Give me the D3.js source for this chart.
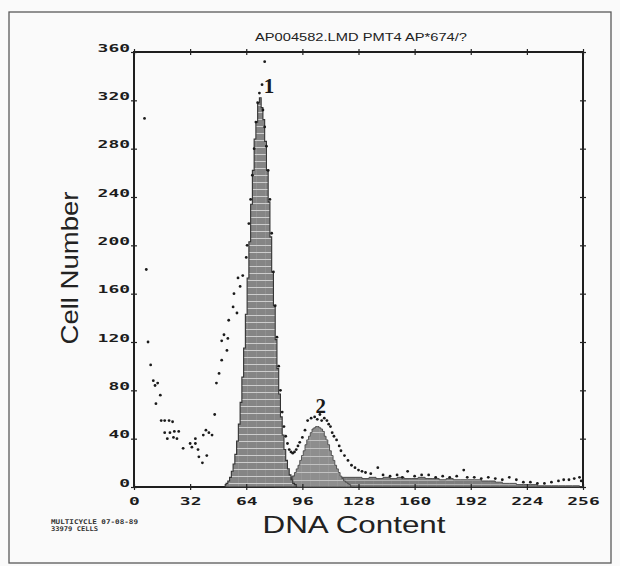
<!DOCTYPE html>
<html>
<head>
<meta charset="utf-8">
<script src="https://cdn.jsdelivr.net/npm/d3@7"></script>
<style>
  body { margin: 0; background: #fafafa; }
  svg { display: block; }
</style>
</head>
<body>
<div id="chart"></div>
<script>
// chart text
const title = 'AP004582.LMD PMT4 AP*674/?';
const xLabel = 'DNA Content';
const yLabel = 'Cell Number';
const footLines = ['MULTICYCLE 07-08-89', '33979 CELLS'];

// tick values
const xTicks = [0, 32, 64, 96, 128, 160, 192, 224, 256];
const yTicks = [0, 40, 80, 120, 160, 200, 240, 280, 320, 360];

// fitted G0/G1 peak (channel, count)
const g1Peak = [[52,2],[53,3],[54,5],[55,8],[56,13],[57,19],[58,27],[59,38],[60,52],[61,70],
  [62,91],[63,115],[64,143],[65,173],[66,203],[67,234],[68,262],[69,288],[70,302],[71,318],
  [72,322],[73,314],[74,304],[75,286],[76,262],[77,236],[78,207],[79,178],[80,150],[81,122],
  [82,98],[83,77],[84,58],[85,43],[86,31],[87,22],[88,15],[89,10],[90,6],[91,3],[92,2],[93,0]];

// fitted G2/M peak (channel, count)
const g2Peak = [[86,2],[87,3],[88,4],[89,5],[90,7],[91,9],[92,12],[93,15],[94,18],[95,22],
  [96,26],[97,30],[98,35],[99,39],[100,42],[101,45],[102,48],[103,49],[104,50],[105,50],
  [106,49],[107,48],[108,46],[109,42],[110,39],[111,35],[112,30],[113,26],[114,22],[115,18],
  [116,15],[117,12],[118,9],[119,7],[120,5],[121,4],[122,3],[123,2],[124,0]];

// fitted S-phase band (channel, count)
const sPhase = [[80,3],[84,6],[88,8],[92,9],[96,9],[100,9],[104,9],[108,9],[112,9],[116,8],
  [120,8],[124,8],[128,8],[132,7],[136,8],[140,7],[144,8],[148,7],[152,8],[156,7],[160,7],
  [164,8],[168,7],[172,7],[176,6],[180,7],[184,6],[188,6],[192,6],[196,6],[200,5],[204,5],
  [208,4],[212,3],[216,3],[220,2],[224,2],[228,2],[232,1],[236,1],[240,1],[244,1],[248,1],
  [252,1],[256,0]];

// raw histogram points (channel, count)
const rawPoints = [[6,305],[7,180],[8,120],[9.5,101],[11,88],[13.5,86],[12,84],[15,76],[12.5,69],
  [15.5,55],[17.5,55],[20,55],[22,54],[17.5,45],[20.5,45],[23,46],[25.5,46],[19,40],[22.5,41],
  [24.5,40],[28,32],[32,36],[35,36],[33,33],[35,40],[36.5,31],[37,25],[39,20],[41.5,26],
  [39.5,43],[41,47],[42.7,45],[44.5,43],[46,60],[47,86],[48.5,94],[50,105],[50,121],[51.3,126],
  [53.5,123],[53,113],[54,138],[56.5,149],[57,160],[58.7,144],[59.3,173],[60.5,166],[62,175],
  [64,190],[64.5,200],[65.5,218],[66.5,238],[67.5,258],[68.5,280],[69.5,302],[70.5,318],
  [71.5,326],[73,333],[74.5,352],[73.5,312],[74.5,298],[75.5,282],[76.5,262],[77.5,238],
  [78.5,210],[79.5,178],[80.5,150],[81.5,124],[82.5,100],[83.5,80],[84.5,62],[85.5,50],
  [86.5,42],[87.5,36],[88.5,31],[89.5,29],[90.5,28],[91.5,29],[92.5,31],[93.5,34],[94.5,37],
  [96,41],[97.5,47],[99,55],[101,57],[103,58],[104.5,56],[106,60],[107,55],[108.5,57],
  [110,55],[111,52],[112,50],[113,45],[114,42],[115.5,39],[117,34],[118,30],[120,26],
  [122,22],[124,18],[126,16],[128,14],[130,13],[132,12],[135,11],[139,16],[142,10],[146,9],
  [150,10],[153,8],[156,13],[160,9],[164,10],[168,10],[172,8],[176,9],[180,8],[184,9],
  [188,14],[190,8],[194,8],[198,7],[202,8],[206,7],[210,6],[214,8],[218,6],[222,4],[226,4],
  [230,3],[234,3],[238,4],[242,5],[245,6],[248,6],[251,7],[254,8],[255,5]];

// peak markers (channel, count, text)
const peakMarks = [[77, 326, '1'], [106.5, 61, '2']];

const width = 620, height = 566;
const plot = { left: 134, right: 583, top: 52, bottom: 487 };

const svg = d3.select('#chart').append('svg')
  .attr('width', width)
  .attr('height', height);

svg.append('rect')
  .attr('width', width).attr('height', height)
  .attr('fill', '#fafafa');

// page frame
svg.append('rect')
  .attr('x', 9).attr('y', 12)
  .attr('width', 602).attr('height', 551)
  .attr('fill', 'none')
  .attr('stroke', '#5a5a5a')
  .attr('stroke-width', 1.3);

const x = d3.scaleLinear().domain([0, 256]).range([plot.left, plot.right]);
const y = d3.scaleLinear().domain([0, 360]).range([plot.bottom, plot.top]);

// plot frame as four thin filled bars
const frameBars = [
  { x: plot.left - 1, y: plot.top - 1, w: plot.right - plot.left + 2, h: 2 },
  { x: plot.right - 1, y: plot.top - 1, w: 2, h: plot.bottom - plot.top + 2 },
  { x: plot.left - 1, y: plot.bottom - 1, w: plot.right - plot.left + 2, h: 2 },
  { x: plot.left - 1, y: plot.top - 1, w: 2, h: plot.bottom - plot.top + 2 }
];
svg.append('g').selectAll('rect')
  .data(frameBars)
  .join('rect')
  .attr('x', d => d.x).attr('y', d => d.y)
  .attr('width', d => d.w).attr('height', d => d.h)
  .attr('fill', '#1e1e1e');

// streaked patterns that mimic the shaded fit areas
const defs = svg.append('defs');
function streaks(id, base, streak, gap) {
  const p = defs.append('pattern')
    .attr('id', id)
    .attr('patternUnits', 'userSpaceOnUse')
    .attr('width', 9).attr('height', gap);
  p.append('rect').attr('width', 9).attr('height', gap).attr('fill', base);
  p.append('line').attr('x1', 0).attr('x2', 9).attr('y1', 0.5).attr('y2', 0.5)
    .attr('stroke', streak).attr('stroke-width', 1);
  p.append('line').attr('x1', 4.5).attr('x2', 4.5).attr('y1', 0).attr('y2', gap)
    .attr('stroke', streak).attr('stroke-opacity', 0.25).attr('stroke-width', 0.6);
}
streaks('g1fill', '#858585', '#cdcdcd', 7);
streaks('g2fill', '#8e8e8e', '#c2c2c2', 8);
streaks('sfill', '#7e7e7e', '#b0b0b0', 4);

const area = d3.area()
  .x(d => x(d[0]))
  .y0(y(0))
  .y1(d => y(d[1]))
  .curve(d3.curveStep);

svg.append('path').datum(sPhase)
  .attr('d', area)
  .attr('fill', 'url(#sfill)')
  .attr('stroke', '#444').attr('stroke-width', 0.9);

svg.append('path').datum(g2Peak)
  .attr('d', area)
  .attr('fill', 'url(#g2fill)')
  .attr('stroke', '#4a4a4a').attr('stroke-width', 0.9);

svg.append('path').datum(g1Peak)
  .attr('d', area)
  .attr('fill', 'url(#g1fill)')
  .attr('stroke', '#333').attr('stroke-width', 1.1);

// raw data points
svg.append('g').selectAll('circle')
  .data(rawPoints)
  .join('circle')
  .attr('cx', d => x(d[0]))
  .attr('cy', d => y(d[1]))
  .attr('r', 1.4)
  .attr('fill', '#1a1a1a');

// axes on all four sides, ticks cross the frame
function styleAxis(g, crossAttr) {
  g.select('.domain').remove();
  g.selectAll('.tick line').attr('stroke', '#222').attr('stroke-width', 1.2)
    .attr(crossAttr + '1', -3).attr(crossAttr + '2', 3);
}

const xAxisG = svg.append('g')
  .attr('transform', `translate(0,${plot.bottom})`)
  .call(d3.axisBottom(x).tickValues(xTicks).tickSize(3).tickSizeOuter(0).tickPadding(6));
styleAxis(xAxisG, 'y');

svg.append('g')
  .attr('transform', `translate(0,${plot.top})`)
  .call(d3.axisTop(x).tickValues(xTicks).tickSize(3).tickSizeOuter(0).tickFormat(''))
  .call(g => styleAxis(g, 'y'));

const yAxisG = svg.append('g')
  .attr('transform', `translate(${plot.left},0)`)
  .call(d3.axisLeft(y).tickValues(yTicks).tickSize(3).tickSizeOuter(0).tickPadding(4));
styleAxis(yAxisG, 'x');

svg.append('g')
  .attr('transform', `translate(${plot.right},0)`)
  .call(d3.axisRight(y).tickValues(yTicks).tickSize(3).tickSizeOuter(0).tickFormat(''))
  .call(g => styleAxis(g, 'x'));

// wide stencil-like tick labels
function tickText(g) {
  g.selectAll('.tick text')
    .attr('font-family', '"DejaVu Sans Mono", monospace')
    .attr('font-weight', 'bold')
    .attr('font-size', 11)
    .attr('fill', '#1c1c1c')
    .attr('lengthAdjust', 'spacingAndGlyphs')
    .attr('textLength', function () { return this.textContent.length * 10.8; });
}
xAxisG.call(tickText);
xAxisG.selectAll('.tick text').attr('dy', '0.78em');
yAxisG.call(tickText);
yAxisG.selectAll('.tick text').attr('dy', -1).attr('x', -4);

// title
svg.append('text')
  .attr('x', 361).attr('y', 41)
  .attr('text-anchor', 'middle')
  .attr('font-family', '"Liberation Sans", Arial, sans-serif')
  .attr('font-size', 11.5)
  .attr('fill', '#222')
  .attr('textLength', 212)
  .attr('lengthAdjust', 'spacingAndGlyphs')
  .text(title);

// axis titles
svg.append('text')
  .attr('x', 354).attr('y', 533)
  .attr('text-anchor', 'middle')
  .attr('font-family', '"Liberation Sans", Arial, sans-serif')
  .attr('font-size', 24)
  .attr('fill', '#222')
  .attr('textLength', 183)
  .attr('lengthAdjust', 'spacingAndGlyphs')
  .text(xLabel);

svg.append('text')
  .attr('transform', 'translate(78,268) rotate(-90)')
  .attr('text-anchor', 'middle')
  .attr('font-family', '"Liberation Sans", Arial, sans-serif')
  .attr('font-size', 24)
  .attr('fill', '#222')
  .attr('textLength', 153)
  .attr('lengthAdjust', 'spacingAndGlyphs')
  .text(yLabel);

// peak numbers
svg.append('g').selectAll('text')
  .data(peakMarks)
  .join('text')
  .attr('x', d => x(d[0]))
  .attr('y', d => y(d[1]))
  .attr('text-anchor', 'middle')
  .attr('font-family', '"Liberation Serif", "DejaVu Serif", serif')
  .attr('font-weight', 'bold')
  .attr('font-size', 21)
  .attr('fill', '#1a1a1a')
  .text(d => d[2]);

// footnote in the lower left corner
svg.append('g').selectAll('text')
  .data(footLines)
  .join('text')
  .attr('x', 51)
  .attr('y', (d, i) => 524 + i * 7)
  .attr('font-family', '"DejaVu Sans Mono", monospace')
  .attr('font-weight', 'bold')
  .attr('font-size', 6.5)
  .attr('fill', '#333')
  .attr('textLength', (d, i) => i === 0 ? 87 : 47)
  .attr('lengthAdjust', 'spacingAndGlyphs')
  .text(d => d);
</script>
</body>
</html>
